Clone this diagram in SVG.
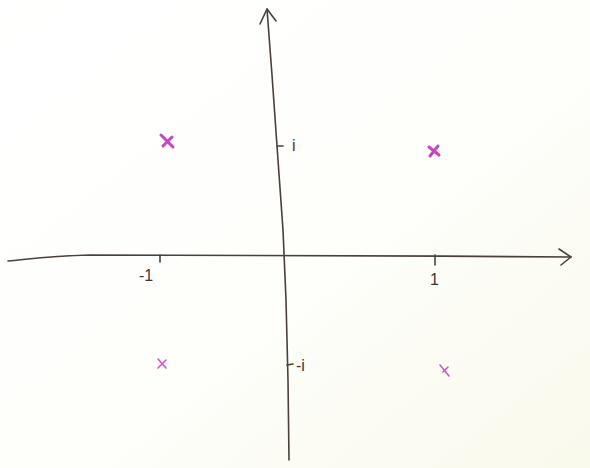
<svg xmlns="http://www.w3.org/2000/svg" width="590" height="468" viewBox="0 0 590 468">
<defs>
<linearGradient id="bg" x1="0" y1="0" x2="1" y2="1">
<stop offset="0" stop-color="#ffffff"/>
<stop offset="0.55" stop-color="#fefefb"/>
<stop offset="1" stop-color="#f9f9ec"/>
</linearGradient>
<style>
.ax{fill:none;stroke:#4a403a;stroke-width:1.6;stroke-linecap:round;stroke-linejoin:round}
.tk{fill:none;stroke:#4a403a;stroke-width:1.6;stroke-linecap:round}
.lb{font-family:"Liberation Sans",Arial,sans-serif;font-size:16px;fill:#3f3632}
.x1{fill:none;stroke:#c845c0;stroke-width:3;stroke-linecap:round}
.x2{fill:none;stroke:#d055c8;stroke-width:1.6;stroke-linecap:round}
</style>
</defs>
<rect width="590" height="468" fill="url(#bg)"/>
<g id="connectors">
<path class="ax" d="M8,261 C30,259 50,256 90,255 C200,254 400,256 571,257"/>
<path class="ax" d="M559,249 L571,257 L561,265"/>
<path class="ax" d="M267,9 L272,75 L277,146 L283,230 L286,300 L288,380 L289,460"/>
<path class="ax" d="M260,24 L267,9 L276,21"/>
</g>
<g id="ticks">
<path class="tk" d="M160,255 L160,262"/>
<path class="tk" d="M435,255 L435,265"/>
<path class="tk" d="M277,146 L283,146"/>
<path class="tk" d="M287,365 L293,364"/>
</g>
<g id="labels">
<text class="lb" x="139" y="281">-1</text>
<text class="lb" x="430" y="285">1</text>
<text class="lb" x="292" y="151">i</text>
<text class="lb" x="296" y="371">-i</text>
</g>
<g id="z1"><path class="x1" d="M161,135 L173,147 M172,137 L163,146"/></g>
<g id="z2"><path class="x1" d="M429,147 L439,155 M438,146 L430,156"/></g>
<g id="z3"><path class="x2" d="M158,359 L166,368 M166,360 L158,368"/></g>
<g id="z4"><path class="x2" d="M440,365 L449,376 M448,367 L443,372"/></g>
</svg>
